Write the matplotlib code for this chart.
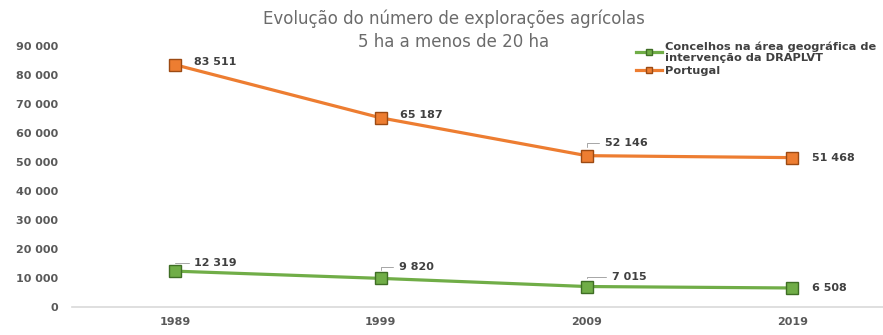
import matplotlib.pyplot as plt

anos = ["1989", "1999", "2009", "2019"]
draplvt = [12319, 9820, 7015, 6508]
portugal = [83511, 65187, 52146, 51468]
yticks = [0, 10000, 20000, 30000, 40000, 50000, 60000, 70000, 80000, 90000]


def fmt(v):
    return f"{v:,}".replace(",", " ")


fig = plt.figure(figsize=(8.83, 3.35), dpi=100)
ax = fig.add_axes([0.0815, 0.084, 0.9185, 0.779])

x = range(len(anos))
ax.plot(x, draplvt, color="#70AD47", lw=2.3, marker="s", ms=9,
        mfc="#70AD47", mec="#3f6e25", mew=1,
        label="Concelhos na área geográfica de\nintervenção da DRAPLVT")
ax.plot(x, portugal, color="#ED7D31", lw=2.3, marker="s", ms=9,
        mfc="#ED7D31", mec="#9c4a13", mew=1, label="Portugal")

# rótulos de dados: deslocamento em pontos e se levam linha de chamada
off_pt = [(14, 2), (14, 2), (13, 9), (14, 0)]
lead_pt = [False, False, True, False]
off_gr = [(14, 6), (13, 8), (18, 7), (14, 0)]
lead_gr = [True, True, True, False]


def rotulo(i, v, off, lead):
    props = None
    if lead:
        props = dict(arrowstyle="-", color="#a6a6a6", lw=0.7,
                     connectionstyle="angle,angleA=0,angleB=90,rad=0",
                     shrinkA=2, shrinkB=6)
    ax.annotate(fmt(v), (i, v), xytext=off, textcoords="offset points",
                fontsize=8, fontweight="bold", color="#404040",
                va="center", ha="left", arrowprops=props)


for i in x:
    rotulo(i, portugal[i], off_pt[i], lead_pt[i])
    rotulo(i, draplvt[i], off_gr[i], lead_gr[i])

ax.set_xlim(-0.5, 3.44)
ax.set_ylim(0, 90000)
ax.set_xticks(list(x))
ax.set_xticklabels(anos)
ax.set_yticks(yticks)
ax.set_yticklabels([fmt(v) for v in yticks])
ax.tick_params(length=0, labelsize=8, colors="#595959")
ax.tick_params(axis="y", pad=10)
ax.tick_params(axis="x", pad=7)
for t in ax.get_xticklabels() + ax.get_yticklabels():
    t.set_fontweight("bold")
for s in ["top", "right", "left"]:
    ax.spines[s].set_visible(False)
ax.spines["bottom"].set_color("#d9d9d9")
ax.spines["bottom"].set_linewidth(1.2)

fig.text(0.514, 0.848, "Evolução do número de explorações agrícolas\n5 ha a menos de 20 ha",
         ha="center", va="bottom", fontsize=12, color="#6b6b6b", linespacing=1.35)

leg = ax.legend(loc="upper left", bbox_to_anchor=(0.69, 1.035), frameon=False,
                fontsize=8.2, handlelength=2.3, handletextpad=0.2,
                labelspacing=0.2, borderaxespad=0, markerscale=0.55)
for t in leg.get_texts():
    t.set_color("#404040")
    t.set_fontweight("bold")

fig.savefig("out.png", dpi=100)
